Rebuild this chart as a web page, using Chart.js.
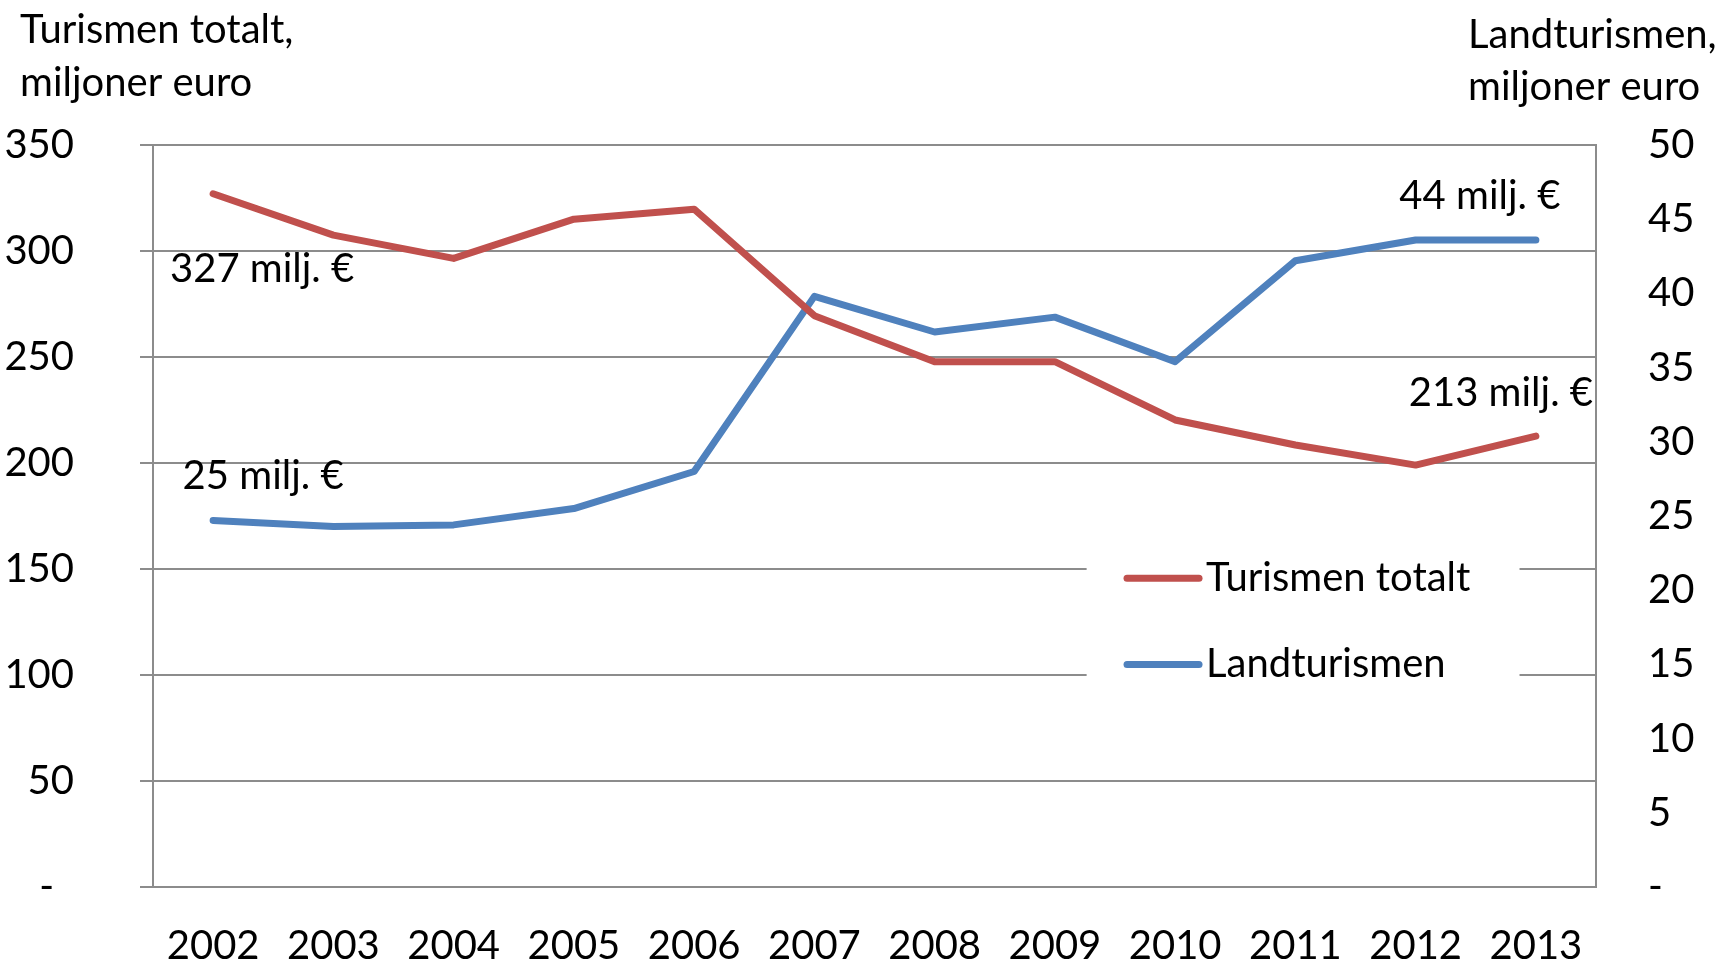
<!DOCTYPE html>
<html>
<head>
<meta charset="utf-8">
<script src="https://cdn.jsdelivr.net/npm/chart.js@4.4.1/dist/chart.umd.min.js"></script>
<style>
  html, body { margin: 0; padding: 0; background: #fff; }
  #wrap { width: 1729px; height: 962px; }
</style>
</head>
<body>
<div id="wrap"><canvas id="chart" width="1729" height="962"></canvas></div>
<script>
// Data
const years = ['2002', '2003', '2004', '2005', '2006', '2007', '2008', '2009', '2010', '2011', '2012', '2013'];
const totalTourism = [327, 307.5, 296.5, 315, 319.7, 269.5, 247.8, 247.8, 220.3, 208.5, 199, 212.7];
const ruralTourism = [24.7, 24.3, 24.4, 25.5, 28.0, 39.8, 37.4, 38.4, 35.4, 42.2, 43.6, 43.6];
const leftTickLabels = ['-\u2002', '50', '100', '150', '200', '250', '300', '350'];
const rightTickLabels = ['-', '5', '10', '15', '20', '25', '30', '35', '40', '45', '50'];
const seriesNames = ['Turismen totalt', 'Landturismen'];
const leftTitle = ['Turismen totalt,', 'miljoner euro'];
const rightTitle = ['Landturismen,', 'miljoner euro'];
const unitText = ' milj. \u20ac';

const FONT = 'Lato';
const GRID = '#8c8c8c';
const RED = '#c0504d';
const BLUE = '#4f81bd';

// which points get a value label, and where it sits relative to the point
const pointLabels = [
    { ds: 0, i: 0, dx: 49, dy: 75 },
    { ds: 1, i: 0, dx: 50, dy: -44 },
    { ds: 1, i: 11, dx: -56, dy: -44 },
    { ds: 0, i: 11, dx: -35, dy: -43 }
];

// keep the big tick padding from shrinking the plot area
function fixVerticalPadding(s, width) {
    s.width = width;
    s.paddingTop = 24;
    s.paddingBottom = 24;
}

const extrasPlugin = {
    id: 'extras',
    afterDraw: function (chart) {
        const ctx = chart.ctx;
        const area = chart.chartArea;
        ctx.save();
        ctx.fillStyle = '#000';
        ctx.font = '40px ' + FONT;
        ctx.textBaseline = 'middle';

        // axis titles
        ctx.textAlign = 'left';
        ctx.fillText(leftTitle[0], 20, 30);
        ctx.fillText(leftTitle[1], 20, 83);
        ctx.fillText(rightTitle[0], 1468, 35);
        ctx.fillText(rightTitle[1], 1468, 87);

        // value labels
        ctx.textAlign = 'center';
        pointLabels.forEach(function (p) {
            const pt = chart.getDatasetMeta(p.ds).data[p.i];
            const v = chart.data.datasets[p.ds].data[p.i];
            ctx.fillText(Math.round(v) + unitText, pt.x + p.dx, pt.y + p.dy);
        });

        // legend box inside the plot
        const w = area.right - area.left;
        const h = area.bottom - area.top;
        const bx = area.left + w * 0.647;
        const by = area.top + h * 0.44;
        ctx.fillStyle = '#fff';
        ctx.fillRect(bx, by, w * 0.30, h * 0.30);
        chart.data.datasets.forEach(function (ds, k) {
            const y = area.top + h * (0.584 + k * 0.116);
            const x0 = area.left + w * 0.675;
            ctx.strokeStyle = ds.borderColor;
            ctx.lineWidth = 7;
            ctx.lineCap = 'round';
            ctx.beginPath();
            ctx.moveTo(x0, y);
            ctx.lineTo(x0 + 72, y);
            ctx.stroke();
            ctx.fillStyle = '#000';
            ctx.textAlign = 'left';
            ctx.fillText(ds.label, x0 + 79, y);
        });
        ctx.restore();
    }
};

new Chart(document.getElementById('chart'), {
    type: 'line',
    data: {
        labels: years,
        datasets: [
            {
                label: seriesNames[0],
                data: totalTourism,
                borderColor: RED,
                borderWidth: 7,
                yAxisID: 'yLeft'
            },
            {
                label: seriesNames[1],
                data: ruralTourism,
                borderColor: BLUE,
                borderWidth: 7,
                yAxisID: 'yRight'
            }
        ]
    },
    options: {
        responsive: false,
        animation: false,
        layout: { padding: { top: 145, left: 0, right: 0, bottom: 0 } },
        elements: {
            line: { borderWidth: 7, tension: 0, borderCapStyle: 'round', borderJoinStyle: 'round' },
            point: { radius: 0, hoverRadius: 0 }
        },
        plugins: {
            legend: { display: false },
            tooltip: { enabled: false }
        },
        scales: {
            x: {
                offset: true,
                grid: { display: false },
                border: { display: true, color: GRID, width: 2 },
                ticks: {
                    color: '#000',
                    font: { family: FONT, size: 40 },
                    padding: 27,
                    maxRotation: 0
                },
                afterFit: function (s) { s.height = 75; }
            },
            yLeft: {
                position: 'left',
                min: 0,
                max: 350,
                grid: { color: GRID, lineWidth: 2, drawTicks: true, tickLength: 13 },
                border: { display: true, color: GRID, width: 2 },
                ticks: {
                    stepSize: 50,
                    color: '#000',
                    padding: 66,
                    font: { family: FONT, size: 40 },
                    callback: function (v, i) { return leftTickLabels[i]; }
                },
                afterFit: function (s) { fixVerticalPadding(s, 153); }
            },
            yRight: {
                position: 'right',
                min: 0,
                max: 50,
                grid: { display: false, drawTicks: false },
                border: { display: true, color: GRID, width: 2 },
                ticks: {
                    stepSize: 5,
                    color: '#000',
                    padding: 52,
                    crossAlign: 'near',
                    font: { family: FONT, size: 40 },
                    callback: function (v, i) { return rightTickLabels[i]; }
                },
                afterFit: function (s) { fixVerticalPadding(s, 133); }
            }
        }
    },
    plugins: [extrasPlugin]
});
</script>
</body>
</html>
